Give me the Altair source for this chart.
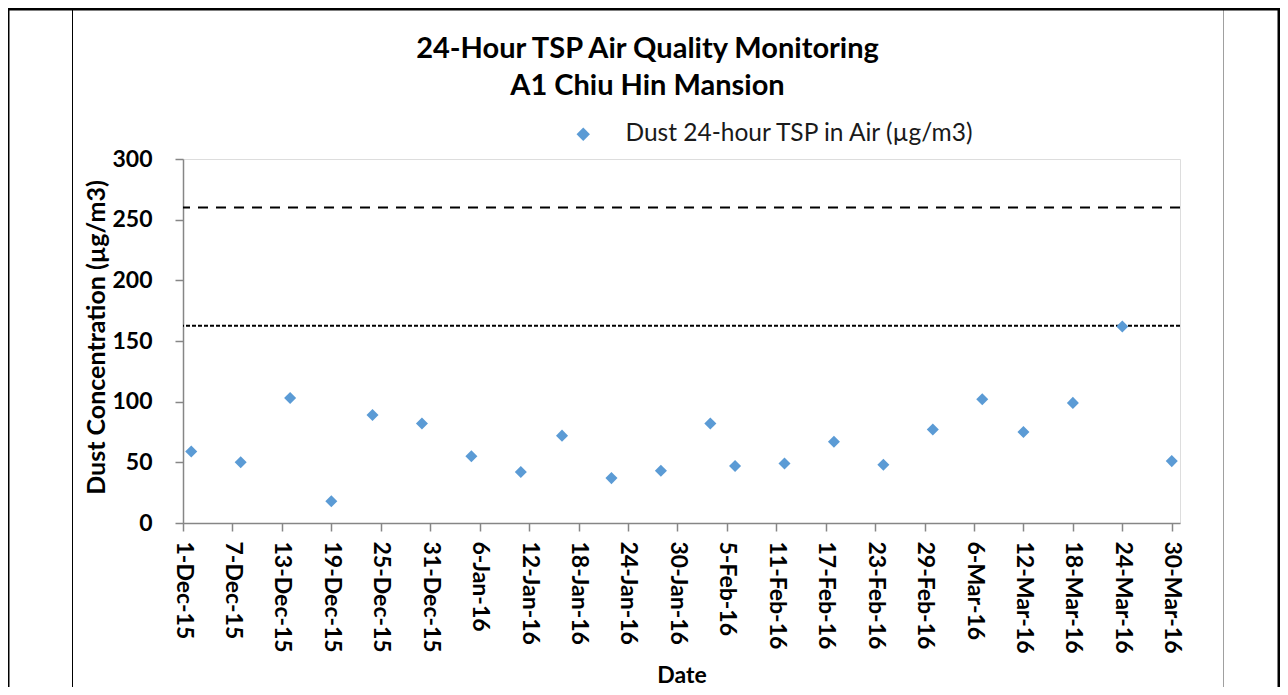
import altair as alt
import pandas as pd

# ---- data ----
dates = ["2015-12-02", "2015-12-08", "2015-12-14", "2015-12-19", "2015-12-24", "2015-12-30",
         "2016-01-05", "2016-01-11", "2016-01-16", "2016-01-22", "2016-01-28",
         "2016-02-03", "2016-02-06", "2016-02-12", "2016-02-18", "2016-02-24",
         "2016-03-01", "2016-03-07", "2016-03-12", "2016-03-18", "2016-03-24", "2016-03-30"]
values = [59, 50, 103, 18, 89, 82,
          55, 42, 72, 37, 43,
          82, 47, 49, 67, 48,
          77, 102, 75, 99, 162, 51]
series_name = "Dust 24-hour TSP in Air (µg/m3)"
tick_dates = ["2015-12-01", "2015-12-07", "2015-12-13", "2015-12-19", "2015-12-25", "2015-12-31",
              "2016-01-06", "2016-01-12", "2016-01-18", "2016-01-24", "2016-01-30",
              "2016-02-05", "2016-02-11", "2016-02-17", "2016-02-23", "2016-02-29",
              "2016-03-06", "2016-03-12", "2016-03-18", "2016-03-24", "2016-03-30"]
x_domain = ["2015-12-01", "2016-03-31"]
y_ticks = [0, 50, 100, 150, 200, 250, 300]
limit_level = [260]
action_level = [162.5]
title_lines = ["24-Hour TSP Air Quality Monitoring", "A1 Chiu Hin Mansion"]
x_title = "Date"
y_title = "Dust Concentration (µg/m3)"


def ms(d):
    return int(pd.Timestamp(d, tz="UTC").value // 10**6)


df = pd.DataFrame({"date": dates, "value": values, "series": series_name})

W, H = 997, 364
TOTAL_W, TOTAL_H = 1272, 679
PL, PT = 175, 151
PR = TOTAL_W - PL - W
PB = TOTAL_H - PT - H

FONT = "Lato"
AXIS_GRAY = "#868686"

x_scale = alt.Scale(type="utc", domain=[ms(d) for d in x_domain])
y_scale = alt.Scale(domain=[0, 300], nice=False)

x_axis = alt.Axis(
    values=[ms(d) for d in tick_dates],
    labelExpr="utcFormat(datum.value, '%-d-%b-%y')",
    labelAngle=90, labelAlign="left", labelBaseline="middle",
    labelPadding=10, labelOverlap=False, labelFlush=False,
    labelFont=FONT, labelFontSize=23, labelFontWeight="bold", labelColor="black",
    tickSize=8, tickColor=AXIS_GRAY, tickWidth=1.5,
    domainColor=AXIS_GRAY, domainWidth=1.5, grid=False,
    title=x_title, titleFont=FONT, titleFontSize=23, titleFontWeight="bold", titleColor="black",
    titleY=159, titleBaseline="alphabetic",
)
y_axis = alt.Axis(
    values=y_ticks,
    labelPadding=23, labelFont=FONT, labelFontSize=23, labelFontWeight="bold", labelColor="black",
    tickSize=8, tickColor=AXIS_GRAY, tickWidth=1.5,
    domainColor=AXIS_GRAY, domainWidth=1.5, grid=False,
    title=y_title, titleFont=FONT, titleFontSize=25, titleFontWeight="bold", titleColor="black",
    titleAngle=270, titleX=-87, titleY=H / 2 - 4, titleAlign="center", titleBaseline="middle",
)

points = alt.Chart(df).mark_point(shape="diamond", filled=True, size=145, opacity=1).encode(
    x=alt.X("date:T", scale=x_scale, axis=x_axis),
    y=alt.Y("value:Q", scale=y_scale, axis=y_axis),
    color=alt.Color(
        "series:N",
        scale=alt.Scale(range=["#5B9BD5"]),
        legend=alt.Legend(
            title=None, orient="none", legendX=388, legendY=-37, padding=0,
            symbolType="diamond", symbolSize=180, labelOffset=30, labelLimit=600,
            labelFont=FONT, labelFontSize=24.5, labelColor="#1a1a1a",
        ),
    ),
)

limit_rule = alt.Chart(pd.DataFrame({"value": limit_level})).mark_rule(
    color="black", strokeWidth=2, strokeDash=[10, 8]
).encode(y=alt.Y("value:Q", scale=y_scale))

action_rule = alt.Chart(pd.DataFrame({"value": action_level})).mark_rule(
    color="black", strokeWidth=2, strokeDash=[4, 2]
).encode(y=alt.Y("value:Q", scale=y_scale))

# decorative page frame (document table borders)
one = alt.Data(values=[{"k": 1}])
frame_left = alt.Chart(one).mark_rule(color="black", strokeWidth=3).encode(
    x=alt.value(-PL), y=alt.value(-PT), y2=alt.value(TOTAL_H - PT))
frame_inner = alt.Chart(one).mark_rule(color="black", strokeWidth=1).encode(
    x=alt.value(72 - 8 - PL + 0.5), y=alt.value(-PT), y2=alt.value(TOTAL_H - PT))
frame_gray = alt.Chart(one).mark_rule(color="#a0a0a0", strokeWidth=1).encode(
    x=alt.value(1223 - 8 - PL + 0.5), y=alt.value(-PT), y2=alt.value(TOTAL_H - PT))
frame_right = alt.Chart(one).mark_rule(color="black", strokeWidth=3).encode(
    x=alt.value(TOTAL_W - PL - 1), y=alt.value(-PT), y2=alt.value(TOTAL_H - PT))
frame_top = alt.Chart(one).mark_rule(color="black", strokeWidth=3).encode(
    x=alt.value(-PL), x2=alt.value(TOTAL_W - PL), y=alt.value(-PT + 1))

chart = alt.layer(
    frame_left, frame_inner, frame_gray, frame_right, frame_top,
    limit_rule, action_rule, points,
).properties(
    width=W, height=H,
    padding={"left": PL, "top": PT, "right": PR, "bottom": PB},
    autosize=alt.AutoSizeParams(type="none"),
    title=alt.TitleParams(
        text=title_lines, font=FONT, fontSize=29, fontWeight="bold", color="black",
        anchor="middle", baseline="alphabetic", offset=0, dx=-34, dy=117, lineHeight=37,
    ),
).configure_view(strokeWidth=0).configure(background="white")

chart.save("out.html", embed_options={"renderer": "svg", "actions": False})
